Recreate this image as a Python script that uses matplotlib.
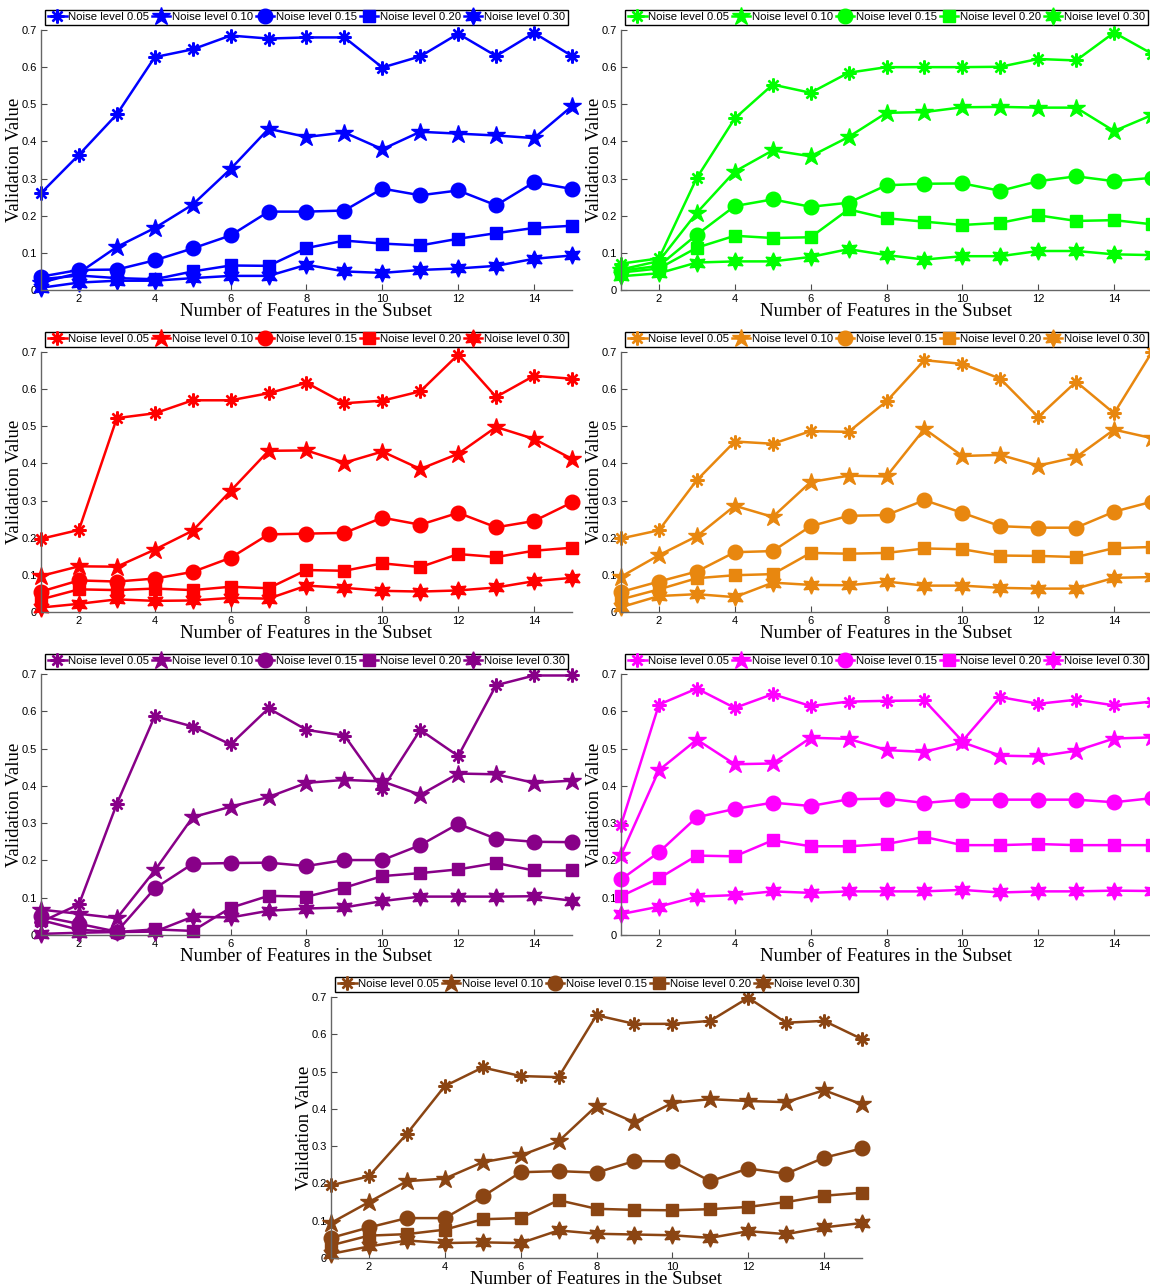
import matplotlib.pyplot as plt
import numpy as np

plt.rcParams['font.family'] = ['Liberation Sans', 'DejaVu Sans']

features = np.arange(1, 16)
noise_labels = ['Noise level 0.05', 'Noise level 0.10', 'Noise level 0.15',
                'Noise level 0.20', 'Noise level 0.30']
x_ticks = [2, 4, 6, 8, 10, 12, 14]
y_ticks = [0, 0.1, 0.2, 0.3, 0.4, 0.5, 0.6, 0.7]
y_tick_labels = ['0', '0.1', '0.2', '0.3', '0.4', '0.5', '0.6', '0.7']

# one list per noise level (0.05, 0.10, 0.15, 0.20, 0.30)
blue_vals = [
    [0.261, 0.364, 0.473, 0.627, 0.648, 0.685, 0.677, 0.680, 0.680, 0.599, 0.629, 0.690, 0.630, 0.692, 0.630],
    [0.020, 0.046, 0.116, 0.167, 0.230, 0.326, 0.434, 0.412, 0.424, 0.379, 0.426, 0.421, 0.416, 0.409, 0.495],
    [0.036, 0.054, 0.055, 0.080, 0.112, 0.147, 0.211, 0.211, 0.214, 0.273, 0.255, 0.268, 0.228, 0.290, 0.272],
    [0.029, 0.039, 0.032, 0.029, 0.050, 0.066, 0.065, 0.113, 0.133, 0.125, 0.120, 0.138, 0.153, 0.167, 0.173],
    [0.006, 0.020, 0.025, 0.025, 0.032, 0.038, 0.038, 0.068, 0.050, 0.046, 0.054, 0.058, 0.065, 0.084, 0.093],
]
green_vals = [
    [0.071, 0.085, 0.302, 0.462, 0.553, 0.531, 0.585, 0.600, 0.600, 0.600, 0.601, 0.622, 0.618, 0.693, 0.636],
    [0.055, 0.078, 0.208, 0.319, 0.376, 0.360, 0.412, 0.477, 0.479, 0.492, 0.493, 0.491, 0.491, 0.428, 0.471],
    [0.052, 0.065, 0.149, 0.226, 0.244, 0.224, 0.235, 0.282, 0.286, 0.287, 0.267, 0.293, 0.306, 0.293, 0.302],
    [0.047, 0.058, 0.114, 0.146, 0.140, 0.142, 0.217, 0.193, 0.184, 0.175, 0.181, 0.201, 0.186, 0.188, 0.177],
    [0.037, 0.045, 0.074, 0.077, 0.077, 0.089, 0.110, 0.094, 0.082, 0.091, 0.091, 0.105, 0.105, 0.096, 0.094],
]
red_vals = [
    [0.197, 0.221, 0.522, 0.535, 0.570, 0.570, 0.589, 0.617, 0.562, 0.569, 0.594, 0.693, 0.579, 0.636, 0.628],
    [0.097, 0.123, 0.122, 0.168, 0.219, 0.326, 0.434, 0.435, 0.402, 0.432, 0.385, 0.426, 0.498, 0.466, 0.412],
    [0.055, 0.085, 0.082, 0.090, 0.108, 0.146, 0.209, 0.211, 0.213, 0.254, 0.235, 0.267, 0.228, 0.245, 0.295],
    [0.034, 0.061, 0.059, 0.063, 0.059, 0.068, 0.064, 0.113, 0.111, 0.131, 0.121, 0.156, 0.148, 0.165, 0.173],
    [0.012, 0.022, 0.034, 0.030, 0.031, 0.038, 0.036, 0.071, 0.065, 0.057, 0.055, 0.058, 0.066, 0.083, 0.092],
]
orange_vals = [
    [0.198, 0.220, 0.355, 0.459, 0.453, 0.487, 0.485, 0.567, 0.678, 0.668, 0.628, 0.525, 0.620, 0.535, 0.700],
    [0.095, 0.153, 0.204, 0.286, 0.256, 0.350, 0.367, 0.365, 0.493, 0.420, 0.423, 0.394, 0.417, 0.491, 0.468],
    [0.054, 0.082, 0.109, 0.161, 0.164, 0.231, 0.259, 0.261, 0.301, 0.267, 0.231, 0.227, 0.227, 0.270, 0.297],
    [0.034, 0.061, 0.091, 0.099, 0.102, 0.159, 0.157, 0.159, 0.171, 0.169, 0.152, 0.151, 0.148, 0.172, 0.175],
    [0.013, 0.043, 0.048, 0.040, 0.079, 0.073, 0.072, 0.082, 0.071, 0.071, 0.065, 0.063, 0.063, 0.092, 0.094],
]
purple_vals = [
    [0.035, 0.082, 0.352, 0.587, 0.559, 0.511, 0.608, 0.550, 0.535, 0.392, 0.550, 0.480, 0.670, 0.696, 0.696],
    [0.068, 0.057, 0.045, 0.173, 0.316, 0.344, 0.370, 0.408, 0.416, 0.412, 0.376, 0.433, 0.431, 0.408, 0.414],
    [0.050, 0.030, 0.009, 0.125, 0.191, 0.193, 0.194, 0.185, 0.201, 0.201, 0.241, 0.298, 0.258, 0.250, 0.249],
    [0.040, 0.014, 0.008, 0.015, 0.011, 0.073, 0.105, 0.103, 0.127, 0.158, 0.166, 0.176, 0.193, 0.173, 0.173],
    [0.003, 0.006, 0.008, 0.009, 0.049, 0.047, 0.065, 0.071, 0.074, 0.091, 0.103, 0.103, 0.103, 0.104, 0.092],
]
magenta_vals = [
    [0.295, 0.618, 0.661, 0.609, 0.646, 0.614, 0.626, 0.628, 0.629, 0.520, 0.638, 0.620, 0.631, 0.616, 0.626],
    [0.214, 0.442, 0.524, 0.458, 0.460, 0.529, 0.526, 0.496, 0.491, 0.517, 0.481, 0.479, 0.494, 0.527, 0.530],
    [0.149, 0.222, 0.316, 0.338, 0.355, 0.346, 0.364, 0.366, 0.354, 0.363, 0.363, 0.363, 0.363, 0.356, 0.367],
    [0.104, 0.152, 0.213, 0.211, 0.254, 0.238, 0.238, 0.244, 0.263, 0.241, 0.241, 0.244, 0.241, 0.241, 0.241],
    [0.056, 0.076, 0.103, 0.107, 0.117, 0.113, 0.117, 0.117, 0.117, 0.121, 0.114, 0.117, 0.117, 0.119, 0.118],
]
brown_vals = [
    [0.195, 0.219, 0.333, 0.461, 0.511, 0.488, 0.485, 0.651, 0.628, 0.628, 0.636, 0.698, 0.631, 0.636, 0.587],
    [0.094, 0.150, 0.206, 0.213, 0.257, 0.275, 0.313, 0.408, 0.364, 0.416, 0.426, 0.421, 0.418, 0.450, 0.412],
    [0.054, 0.082, 0.107, 0.107, 0.165, 0.230, 0.233, 0.229, 0.260, 0.259, 0.206, 0.240, 0.226, 0.269, 0.294],
    [0.034, 0.060, 0.064, 0.076, 0.104, 0.107, 0.155, 0.132, 0.129, 0.128, 0.131, 0.137, 0.150, 0.167, 0.175],
    [0.011, 0.031, 0.047, 0.040, 0.042, 0.040, 0.074, 0.065, 0.063, 0.061, 0.054, 0.072, 0.064, 0.082, 0.094],
]

panels = [
    (blue_vals, '#0000ff', (41, 30, 572, 290)),
    (green_vals, '#00ff00', (621, 30, 1152, 290)),
    (red_vals, '#ff0000', (41, 352, 572, 612)),
    (orange_vals, '#e8870f', (621, 352, 1152, 612)),
    (purple_vals, '#880088', (41, 674, 572, 935)),
    (magenta_vals, '#ff00ff', (621, 674, 1152, 935)),
    (brown_vals, '#8b4513', (331, 997, 862, 1258)),
]

markers = [(8, 2, 0), '*', 'o', 's', (6, 1, 0)]
msizes = [10, 13.5, 10.5, 9, 12.5]

W, H = 1150, 1288
fig = plt.figure(figsize=(W / 100, H / 100), dpi=100)

for vals, color, (l, t, r, b) in panels:
    ax = fig.add_axes([l / W, 1 - b / H, (r - l) / W, (b - t) / H])
    for series, mk, ms, lab in zip(vals, markers, msizes, noise_labels):
        ax.plot(features, series, color=color, lw=1.8, marker=mk, ms=ms,
                mec=color, mfc=color, mew=1.7 if mk == (8, 2, 0) else 1.0,
                label=lab, clip_on=False)
    ax.set_xlim(1, 15)
    ax.set_ylim(0, 0.7)
    ax.set_xticks(x_ticks)
    ax.set_yticks(y_ticks)
    ax.set_yticklabels(y_tick_labels)
    for s in ['top', 'right']:
        ax.spines[s].set_visible(False)
    for s in ['left', 'bottom']:
        ax.spines[s].set_color('0.4')
        ax.spines[s].set_linewidth(1.0)
    ax.tick_params(direction='in', length=4, width=0.8, color='0.3',
                   labelsize=8, pad=3, labelcolor='black')
    ax.set_xlabel('Number of Features in the Subset', family='Liberation Serif',
                  fontsize=13.5, va='center')
    ax.xaxis.set_label_coords(0.5, -0.083)
    ax.set_ylabel('Validation Value', family='Liberation Serif', fontsize=13.5,
                  va='center')
    ax.yaxis.set_label_coords(-0.05, 0.5)
    leg = ax.legend(loc='lower center', bbox_to_anchor=(0.5, 1.018), ncol=5,
                    fontsize=8.2, handlelength=1.6, handletextpad=0.15,
                    columnspacing=0.25, borderpad=0.25, borderaxespad=0,
                    fancybox=False, framealpha=1, edgecolor='black')
    leg.get_frame().set_linewidth(1.0)

fig.savefig('out.png', dpi=100)
